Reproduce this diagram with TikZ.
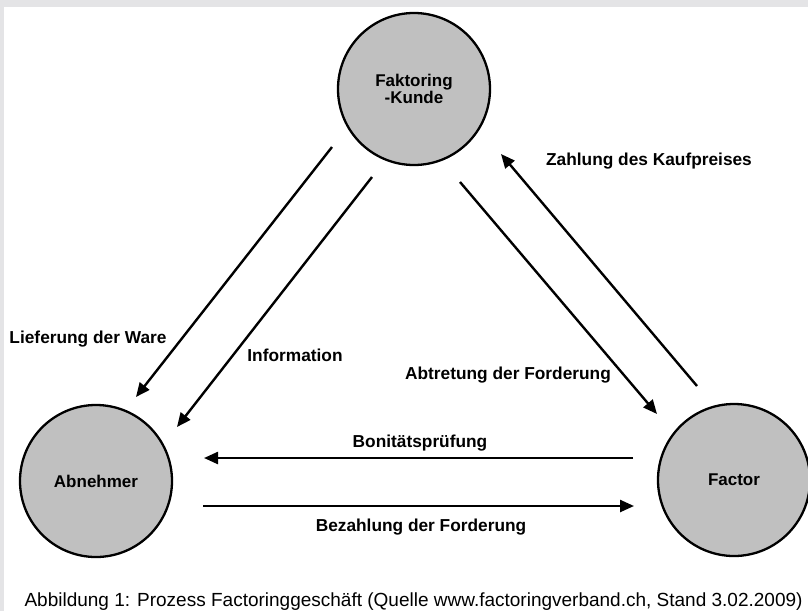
\documentclass[tikz,border=0pt]{standalone}
\usepackage{fontspec}
\setmainfont{Liberation Sans}
\usetikzlibrary{arrows.meta}
\definecolor{frame}{RGB}{228,228,230}
\definecolor{party}{RGB}{192,192,192}
\tikzset{>={Triangle[length=14pt,width=12pt]}}

\begin{document}
\begin{tikzpicture}[x=1pt,y=-1pt,
    partei/.style={circle,draw=black,line width=2.3pt,fill=party,
      minimum size=152pt,inner sep=0pt,align=center,
      font=\fontsize{17}{17}\selectfont\bfseries},
    flow/.style={->,line width=2.4pt},
    tag/.style={font=\fontsize{17.3}{20}\selectfont\bfseries}]
  % Rahmen
  \fill[frame] (0,0) rectangle (808,611);
  \fill[white] (4,7) rectangle (808,611);
  \useasboundingbox (0,0) rectangle (808,611);

  % Beteiligte
  \node[partei] (kunde) at (414,89) {Faktoring\\-Kunde};
  \node[partei] (abnehmer) at (96,481) {Abnehmer};
  \node[partei] (factor) at (734,480) {Factor};

  % Pfeilenden
  \coordinate (lief1) at (332,147);
  \coordinate (lief2) at (136,397);
  \coordinate (info1) at (372,177);
  \coordinate (info2) at (177,427);
  \coordinate (abtr1) at (460,182);
  \coordinate (abtr2) at (657,414);
  \coordinate (zahl1) at (697,386);
  \coordinate (zahl2) at (501,154);
  \coordinate (boni1) at (633,458);
  \coordinate (boni2) at (204,458);
  \coordinate (bez1) at (203,506);
  \coordinate (bez2) at (634,506);

  \draw[flow] (lief1) -- (lief2);
  \draw[flow] (info1) -- (info2);
  \draw[flow] (abtr1) -- (abtr2);
  \draw[flow] (zahl1) -- (zahl2);
  \draw[flow] (boni1) -- (boni2);
  \draw[flow] (bez1) -- (bez2);

  % Beschriftungen
  \node[tag] (tlief) at (88,339) {Lieferung der Ware};
  \node[tag] (tinfo) at (295,355) {Information};
  \node[tag] (tabtr) at (508,375) {Abtretung der Forderung};
  \node[tag] (tzahl) at (649,161) {Zahlung des Kaufpreises};
  \node[tag] (tboni) at (420,443) {Bonitätsprüfung};
  \node[tag] (tbez) at (421,527) {Bezahlung der Forderung};

  \node[font=\fontsize{19}{22}\selectfont,anchor=base west] (caption)
    at (21,606)
    {Abbildung 1: Prozess Factoringgeschäft (Quelle www.factoringverband.ch, Stand 3.02.2009)};
\end{tikzpicture}
\end{document}
